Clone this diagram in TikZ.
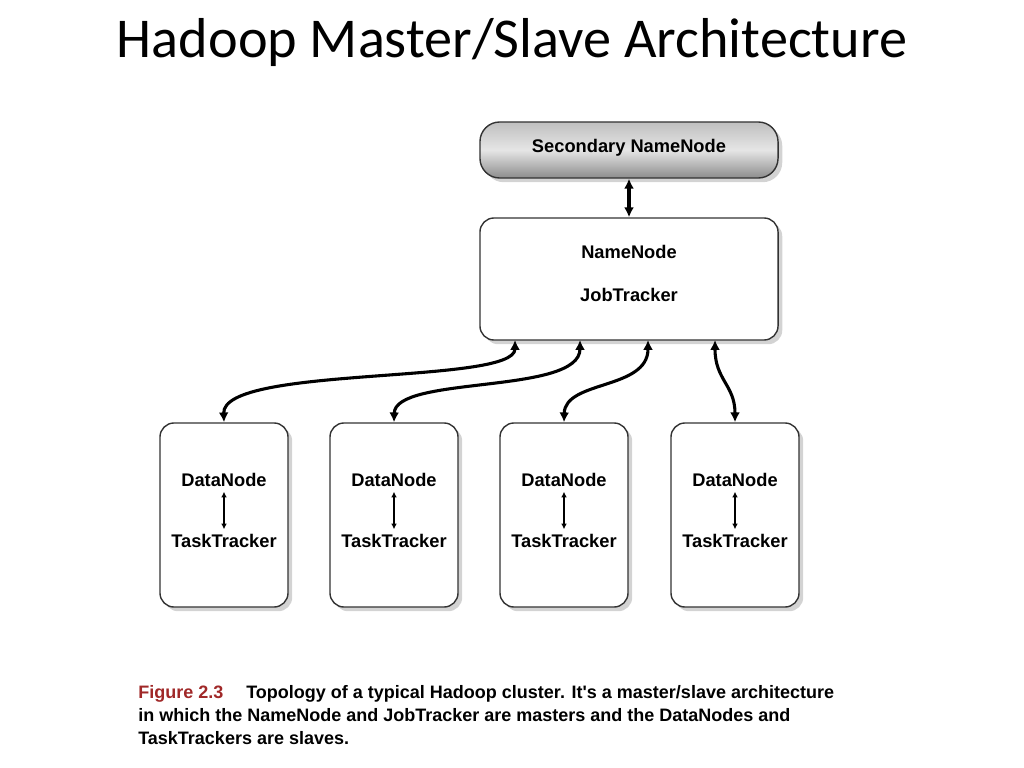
\documentclass[tikz,border=0pt]{standalone}
\usepackage{fontspec}
\setmainfont{Carlito}
\newfontfamily\lab{Liberation Sans}
\usetikzlibrary{arrows.meta,shadows}
\begin{document}
\begin{tikzpicture}[x=0.025cm,y=-0.025cm,
  box/.style={draw=black!80,line width=1pt,rounded corners=10pt,fill=white,drop shadow={shadow xshift=3pt,shadow yshift=-3pt,opacity=0.35}},
  t/.style={font=\lab\bfseries\fontsize{13}{15}\selectfont},
  conn/.style={line width=2.2pt,{Latex[length=7pt,width=7pt]}-{Latex[length=7pt,width=7pt]}},
  small/.style={line width=1.2pt,{Latex[length=4pt,width=4pt]}-{Latex[length=4pt,width=4pt]}}]
\useasboundingbox (0,0) rectangle (1024,768);
\node (title) at (512,43) {\fontsize{40}{44}\selectfont Hadoop Master/Slave Architecture};
\node[box,top color=black!25,bottom color=black!45,middle color=black!10,minimum width=7.45cm,minimum height=1.4cm,rounded corners=14pt] (sec) at (629,150) {};
\node[t] at (629,148) {Secondary NameNode};
\node[box,minimum width=7.45cm,minimum height=3.05cm] (nn) at (629,279) {};
\node[t] (nnl) at (629,252) {NameNode};
\node[t] (jt) at (629,295) {JobTracker};
\draw[conn,line width=3pt] (sec.south) -- (nn.north);
\foreach \i/\x in {1/224,2/394,3/564,4/735}{
  \node[box,minimum width=3.2cm,minimum height=4.6cm] (b\i) at (\x,515) {};
  \node[t] (dn\i) at (\x,480) {DataNode};
  \node[t] (tt\i) at (\x,541) {TaskTracker};
  \draw[small] (dn\i.south) -- (tt\i.north);
}
\coordinate (n1) at (515,340);
\coordinate (n2) at (580,340);
\coordinate (n3) at (648,340);
\coordinate (n4) at (715,340);
\draw[conn] (n1) .. controls (515,385) and (222,365) .. (b1.north);
\draw[conn] (n2) .. controls (580,395) and (395,375) .. (b2.north);
\draw[conn] (n3) .. controls (648,390) and (565,380) .. (b3.north);
\draw[conn] (n4) .. controls (715,380) and (735,385) .. (b4.north);
\node[anchor=west,align=left,font=\lab\bfseries\fontsize{12.8}{16.3}\selectfont,inner sep=0] (cap) at (138,715)
 {\textcolor[RGB]{160,40,40}{Figure 2.3}\quad\ Topology of a typical Hadoop cluster. It's a master/slave architecture\\
 in which the NameNode and JobTracker are masters and the DataNodes and\\
 TaskTrackers are slaves.};
\end{tikzpicture}
\end{document}
